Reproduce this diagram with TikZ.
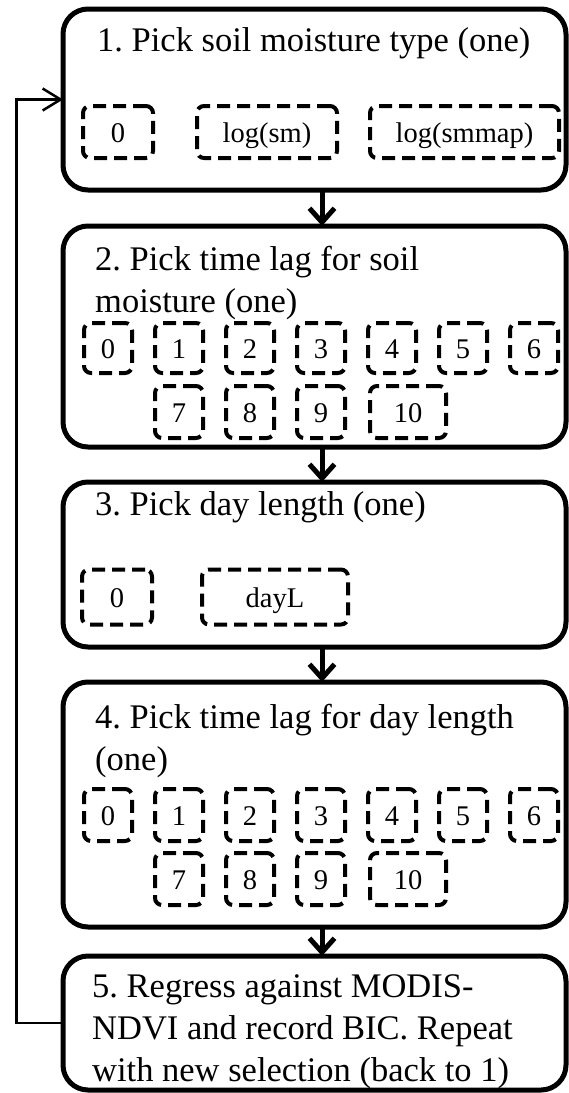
\documentclass[tikz,border=0pt]{standalone}
\usepackage{fontspec}
\setmainfont{Liberation Serif}
\usepackage{tikz}
\usetikzlibrary{arrows.meta,positioning,calc}
\frenchspacing

\begin{document}
\begin{tikzpicture}[
  x=1pt, y=-1pt,
  stage/.style={draw, line width=5pt, rounded corners=25pt, outer sep=0pt, inner sep=0pt},
  title/.style={anchor=base west, align=left, inner sep=0pt, font=\fontsize{34.5}{42}\selectfont},
  choice/.style={draw, line width=4pt, dash pattern=on 13pt off 7pt, rounded corners=7pt,
    inner sep=0pt, outer sep=0pt, text height=22pt, text depth=2pt, font=\fontsize{28.5}{30}\selectfont},
  flow/.style={-{Straight Barb[length=14pt,width=25pt]}, line width=5pt},
  back/.style={-{Straight Barb[length=18pt,width=22pt]}, line width=2.5pt}
]
  \useasboundingbox (0,0) rectangle (569,1093);

  \node[stage, minimum width=503pt, minimum height=181pt] (s1) at (314.5,99.5) {};
  \node[stage, minimum width=503pt, minimum height=221pt] (s2) at (314.5,336.5) {};
  \node[stage, minimum width=503pt, minimum height=165pt] (s3) at (314.5,564.5) {};
  \node[stage, minimum width=503pt, minimum height=245pt] (s4) at (314.5,804.5) {};
  \node[stage, minimum width=503pt, minimum height=134pt] (s5) at (314.5,1023) {};

  % base anchor sits on the last line
  \node[title] (t1) at (97,51) {1. Pick soil moisture type (one)};
  \node[title] (t2) at (95,312) {2. Pick time lag for soil\\moisture (one)};
  \node[title] (t3) at (95,515) {3. Pick day length (one)};
  \node[title] (t4) at (95,770) {4. Pick time lag for day length\\(one)};
  \node[title] (t5) at (92,1081) {5. Regress against MODIS-\\NDVI and record BIC. Repeat\\with new selection (back to 1)};

  \node[choice, minimum width=70pt, minimum height=52pt] (sm0) at (118,132) {0};
  \node[choice, minimum width=140pt, minimum height=52pt] (smlog) at (267,132) {log(sm)};
  \node[choice, minimum width=189pt, minimum height=52pt] (smmap) at (464.5,132) {log(smmap)};

  \foreach \i in {0,...,6} {
    \node[choice, minimum width=48pt, minimum height=50pt] (lag\i) at ({108+71*\i},348) {\i};
    \node[choice, minimum width=48pt, minimum height=52pt] (dlag\i) at ({108+71*\i},815) {\i};
  }
  \foreach \i in {7,8,9} {
    \node[choice, minimum width=48pt, minimum height=52pt] (lag\i) at ({179+71*(\i-7)},412) {\i};
    \node[choice, minimum width=48pt, minimum height=52pt] (dlag\i) at ({179+71*(\i-7)},879) {\i};
  }
  \node[choice, minimum width=76pt, minimum height=52pt] (lag10) at (408,412) {10};
  \node[choice, minimum width=76pt, minimum height=52pt] (dlag10) at (408,879) {10};

  \node[choice, minimum width=70pt, minimum height=55pt] (dl0) at (117,597) {0};
  \node[choice, minimum width=146pt, minimum height=55pt] (dayL) at (275,597) {dayL};

  \coordinate (ax) at (322,0);
  \coordinate (loop) at (16.7,0);
  \draw[flow] (s1.south -| ax) -- (s2.north -| ax);
  \draw[flow] (s2.south -| ax) -- (s3.north -| ax);
  \draw[flow] (s3.south -| ax) -- (s4.north -| ax);
  \draw[flow] (s4.south -| ax) -- (s5.north -| ax);
  \draw[back] (s5.west) -- (s5.west -| loop) |- (s1.west);
\end{tikzpicture}
\end{document}
